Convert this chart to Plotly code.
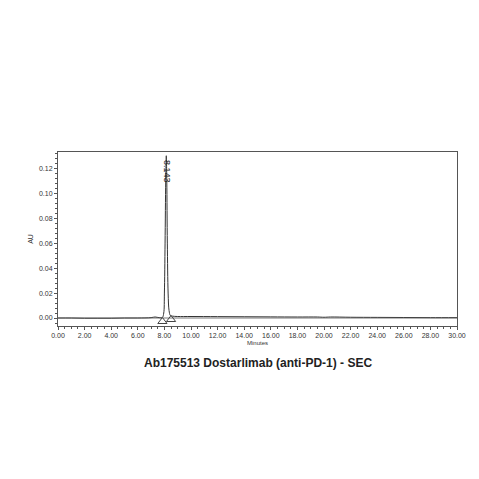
import plotly.graph_objects as go

minutes = [0.0, 1.0, 2.0, 3.0, 4.0, 5.0, 6.0, 7.0, 7.3, 7.6, 7.85, 7.95, 8.0, 8.05, 8.1, 8.143, 8.18, 8.22, 8.28, 8.35, 8.45, 8.6, 9.0, 10.0, 12.0, 14.0, 16.0, 18.0, 19.5, 20.0, 20.5, 22.0, 24.0, 26.0, 28.0, 30.0]
au = [0.0, 0.0, -0.0002, -0.0002, -0.0002, 0.0, 0.0, 0.0003, 0.0008, 0.0003, 0.0005, 0.004, 0.02, 0.06, 0.11, 0.130, 0.11, 0.06, 0.02, 0.006, 0.002, 0.0015, 0.0012, 0.0012, 0.0011, 0.001, 0.0009, 0.0008, 0.0008, 0.0006, 0.0008, 0.0006, 0.0005, 0.0004, 0.0003, 0.0003]
peak_rt = 8.143
peak_au = 0.130
marker_rt = [7.85, 8.5]
marker_au = [-0.0028, -0.0012]
x_ticks = [0, 2, 4, 6, 8, 10, 12, 14, 16, 18, 20, 22, 24, 26, 28, 30]
y_ticks = [0.0, 0.02, 0.04, 0.06, 0.08, 0.10, 0.12]

fig = go.Figure()
fig.add_trace(go.Scatter(x=minutes, y=au, mode="lines", line=dict(color="#333", width=1), line_shape="spline"))
fig.add_trace(go.Scatter(x=[0, 30], y=[0, 0], mode="lines", line=dict(color="#555", width=0.8)))
fig.add_trace(go.Scatter(x=marker_rt, y=marker_au, mode="markers",
                         marker=dict(symbol="triangle-up-open", size=8, color="#444", line=dict(width=1))))
fig.add_annotation(x=peak_rt, y=peak_au, text="8.143", textangle=90, showarrow=False,
                   xanchor="center", yanchor="top", yshift=-2, font=dict(size=9, color="#222"))
tf = dict(size=7, color="#333", family="Liberation Sans, Arial")
fig.update_layout(
    width=479, height=479, showlegend=False, plot_bgcolor="white", paper_bgcolor="white",
    margin=dict(l=50, r=30, t=144, b=161, autoexpand=False),
    font=dict(family="Liberation Sans, Arial", size=7, color="#333"),
    xaxis=dict(range=[0, 30], tickvals=x_ticks, ticktext=[f"{v:.2f}" for v in x_ticks], tickfont=tf,
               automargin=False,
               ticks="outside", ticklen=3, tickcolor="#555", minor=dict(ticks="outside", ticklen=2, dtick=0.5, tickcolor="#555"),
               showgrid=False, zeroline=False, showline=True, linecolor="#555", mirror=True,
               title=dict(text="Minutes", font=dict(size=6, color="#333"), standoff=2)),
    yaxis=dict(range=[-0.0064, 0.133], tickvals=y_ticks, ticktext=[f"{v:.2f}" for v in y_ticks], tickfont=tf,
               automargin=False,
               ticks="outside", ticklen=3, tickcolor="#555", minor=dict(ticks="outside", ticklen=2, dtick=0.004, tickcolor="#555"),
               showgrid=False, zeroline=False, showline=True, linecolor="#555", mirror=True,
               title=dict(text="AU", font=dict(size=7, color="#333"), standoff=4)),
)
fig.add_annotation(text="<b>Ab175513 Dostarlimab (anti-PD-1) - SEC</b>", xref="paper", yref="paper",
                   x=0.5, y=-0.21, yanchor="middle", showarrow=False,
                   font=dict(size=12, color="#222", family="Liberation Sans, Arial"))
fig.write_html("out.html")
